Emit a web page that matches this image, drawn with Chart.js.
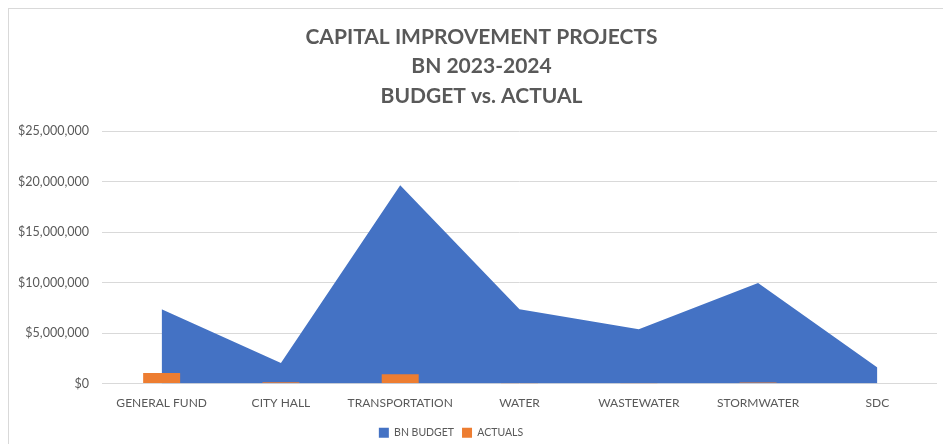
<!DOCTYPE html>
<html>
<head>
<meta charset="utf-8">
<script src="https://cdn.jsdelivr.net/npm/chart.js@4"></script>
<style>
  html, body { margin: 0; padding: 0; background: #fff; overflow: hidden; }
  #frame {
    position: absolute; left: 8px; top: 8px;
    width: 945px; height: 445px;
    border: 1px solid #d9d9d9;
  }
</style>
</head>
<body>
<div id="frame"><canvas id="cipChart"></canvas></div>
<script>
const categories = ['GENERAL FUND', 'CITY HALL', 'TRANSPORTATION', 'WATER', 'WASTEWATER', 'STORMWATER', 'SDC'];
const budget = [7360000, 2040000, 19660000, 7360000, 5380000, 9960000, 1580000];
const actuals = [1050000, 130000, 920000, 30000, 20000, 100000, 0];
const titleLines = ['CAPITAL IMPROVEMENT PROJECTS', 'BN 2023-2024', 'BUDGET vs. ACTUAL'];

const textGray = '#595959';

// Excel centres the title on the frame, the legend a bit further left
const boxShift = {
    id: 'boxShift',
    afterLayout(chart) {
        if (chart.titleBlock) {
            chart.titleBlock.left += 8.5;
            chart.titleBlock.right += 8.5;
        }
        if (chart.legend) {
            chart.legend.left -= 22;
            chart.legend.right -= 22;
        }
    }
};

function initChart() {
    const ctx = document.getElementById('cipChart').getContext('2d');

    new Chart(ctx, {
        data: {
            labels: categories,
            datasets: [
                {
                    type: 'line',
                    label: 'BN BUDGET',
                    data: budget,
                    backgroundColor: '#4472C4',
                    borderColor: 'rgba(68, 114, 196, 0)',
                    borderWidth: 0,
                    pointRadius: 0,
                    tension: 0,
                    fill: 'origin',
                    order: 2
                },
                {
                    type: 'bar',
                    label: 'ACTUALS',
                    data: actuals,
                    backgroundColor: '#ED7D31',
                    categoryPercentage: 1,
                    barPercentage: 0.31,
                    order: 1
                }
            ]
        },
        options: {
            responsive: true,
            maintainAspectRatio: false,
            animation: false,
            layout: { padding: { left: 0, right: 17, top: 0, bottom: 6 } },
            scales: {
                x: {
                    afterFit: (axis) => { axis.height = 36; },
                    grid: { display: false },
                    border: { display: false },
                    ticks: {
                        color: textGray,
                        font: { family: 'Lato', size: 12 },
                        padding: 4,
                        maxRotation: 0
                    }
                },
                y: {
                    min: 0,
                    max: 25000000,
                    afterFit: (axis) => { axis.width = 93; },
                    ticks: {
                        stepSize: 5000000,
                        color: textGray,
                        font: { family: 'Lato', size: 12.5 },
                        padding: 13,
                        callback: (v) => '$' + v.toLocaleString('en-US')
                    },
                    grid: { color: '#d9d9d9', drawTicks: false },
                    border: { display: false }
                }
            },
            plugins: {
                title: {
                    display: true,
                    text: titleLines,
                    color: textGray,
                    font: { family: 'Lato', size: 21, weight: 'bold', lineHeight: 1.42 },
                    padding: { top: 13, bottom: 20 }
                },
                legend: {
                    position: 'bottom',
                    labels: {
                        color: textGray,
                        font: { family: 'Lato', size: 10.5 },
                        boxWidth: 10,
                        boxHeight: 10,
                        padding: 8,
                        sort: (a, b) => a.datasetIndex - b.datasetIndex
                    }
                },
                tooltip: { enabled: false }
            }
        },
        plugins: [boxShift]
    });
}

document.addEventListener('DOMContentLoaded', initChart);
</script>
</body>
</html>
